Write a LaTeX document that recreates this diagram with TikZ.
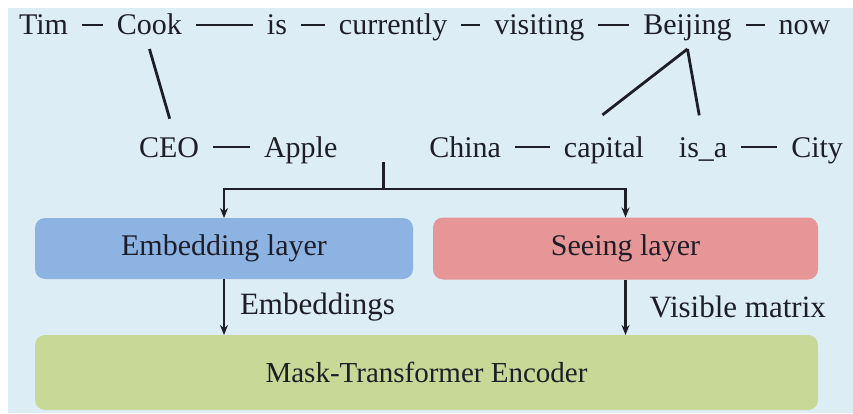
\documentclass[tikz,border=0pt]{standalone}
\usepackage{fontspec}
\setmainfont{Liberation Serif}
\usepackage{tikz}
\usetikzlibrary{positioning}
\usetikzlibrary{arrows.meta}
\usetikzlibrary{calc}
\definecolor{bgblue}{HTML}{DCEDF5}
\definecolor{embedblue}{HTML}{8DB3E2}
\definecolor{seeingred}{HTML}{E69696}
\definecolor{encgreen}{HTML}{C8D896}
\definecolor{inkdark}{HTML}{1E1E28}
\tikzset{word node/.style={inner sep=0pt,outer sep=0pt,text height=20pt,text depth=0pt,font=\fontsize{30}{36}\selectfont,text=inkdark},
  layer node/.style={rounded corners=10pt,inner sep=0pt,outer sep=0pt,font=\fontsize{30}{36}\selectfont,text=inkdark},
  flow label/.style={inner sep=0pt,outer sep=0pt,font=\fontsize{31}{37}\selectfont,text=inkdark},
  link/.style={shorten <=14pt,shorten >=14pt},}

\begin{document}
\begin{tikzpicture}[x=1pt,y=1pt,>={Stealth[length=10pt,width=8pt]},line width=2.8pt,draw=inkdark]
    \fill[white] (0,0) rectangle (853,413);
    \fill[bgblue] (8,0) rectangle (853,405);
    \useasboundingbox (0,0) rectangle (853,413);

    % sentence
    \node[word node] (tim) at (43.5,388) {Tim};
    \node[word node] (cook) [right = 49pt of tim] {Cook};
    \node[word node] (is) [right = 85pt of cook] {is};
    \node[word node] (currently) [right = 52pt of is] {currently};
    \node[word node] (visiting) [right = 47pt of currently] {visiting};
    \node[word node] (beijing) [right = 59pt of visiting] {Beijing};
    \node[word node] (now) [right = 47pt of beijing] {now};

    % injected knowledge
    \node[word node] (ceo) at (169,266) {CEO};
    \node[word node] (apple) [right = 65pt of ceo] {Apple};
    \node[word node] (china) [right = 92pt of apple] {China};
    \node[word node] (capital) [right = 63pt of china] {capital};
    \node[word node] (isa) [right = 35pt of capital] {is\_a};
    \node[word node] (city) [right = 64pt of isa] {City};

    \path[draw]
    (tim) edge[link] (cook)
    (cook) edge[link] (is)
    (is) edge[link] (currently)
    (currently) edge[link] (visiting)
    (visiting) edge[link] (beijing)
    (beijing) edge[link] (now)
    (ceo) edge[link] (apple)
    (china) edge[link] (capital)
    (isa) edge[link] (city);

    \coordinate (cookfoot) at ([yshift=-14pt]cook.south);
    \coordinate (beijingfoot) at ([yshift=-14pt]beijing.south);
    \draw[shorten >=19pt] (cookfoot) -- ([xshift=6pt]ceo.north);
    \draw[shorten >=36pt] (beijingfoot) -- ([xshift=10pt]capital.north west);
    \draw[shorten >=22pt] (beijingfoot) -- (isa.north);

    % layers
    \node[layer node,fill=embedblue,minimum width=378pt,minimum height=61pt] (embed) at (224,164.5) {Embedding layer};
    \node[layer node,fill=seeingred,minimum width=385pt,minimum height=62pt] (seeing) [right = 20pt of embed] {Seeing layer};
    \node[layer node,fill=encgreen,minimum width=783pt,minimum height=75pt,font=\fontsize{29}{35}\selectfont] (encoder) at (426.5,40.5) {Mask-Transformer Encoder};

    \coordinate (tree) at ($(apple.east)!0.5!(china.west)+(0,-15pt)$);
    \coordinate (fork) at ([yshift=-27pt]tree);
    \draw (tree) -- (fork);
    \draw[->] (fork) -| (embed.north);
    \draw[->] (fork) -| (seeing.north);

    \draw[->] (embed.south) -- (embed.south |- encoder.north) node[flow label,midway,right=16pt] {Embeddings};
    \draw[->] (seeing.south) -- (seeing.south |- encoder.north) node[flow label,midway,right=24pt] {Visible matrix};
\end{tikzpicture}
\end{document}
